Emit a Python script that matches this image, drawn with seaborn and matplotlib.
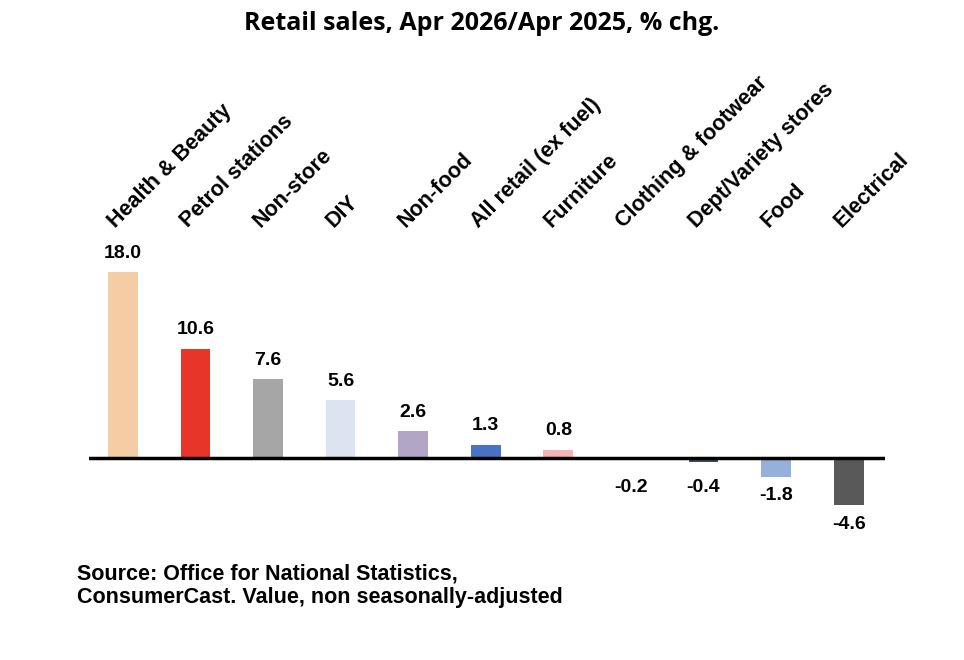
import matplotlib
matplotlib.use("Agg")
import matplotlib.pyplot as plt
import seaborn as sns
import pandas as pd

categories = ["Health & Beauty", "Petrol stations", "Non-store", "DIY", "Non-food",
              "All retail (ex fuel)", "Furniture", "Clothing & footwear",
              "Dept/Variety stores", "Food", "Electrical"]
values = [18.0, 10.6, 7.6, 5.6, 2.6, 1.3, 0.8, -0.2, -0.4, -1.8, -4.6]
colors = ["#F4CDA5", "#E8352A", "#A6A6A6", "#DCE4F1", "#B2A5C6", "#4A72C4",
          "#F5B5B5", "#F2E6D9", "#3B4A6B", "#95B0DA", "#595959"]

sns.set_style("white")
plt.rcParams['font.family'] = ['Liberation Sans', 'DejaVu Sans']
plt.rcParams['text.color'] = 'black'

df = pd.DataFrame({"cat": categories, "val": values})
fig = plt.figure(figsize=(9.64, 6.6), dpi=100)
ax = fig.add_axes([0.092, 0.182, 0.826, 0.424])
sns.barplot(data=df, x="cat", y="val", hue="cat", palette=colors, legend=False,
            width=0.41, ax=ax, saturation=1, linewidth=0)
ax.set_xlim(-0.47, 10.5)
ax.set_ylim(-7.94, 19.17)
ax.axhline(0, color="black", lw=2.5)
for s in ax.spines.values():
    s.set_visible(False)
ax.set_xticks([]); ax.set_yticks([])
ax.set_xlabel(""); ax.set_ylabel("")
for i, v in enumerate(values):
    if v >= 0:
        ax.text(i, v + 1.0, f"{v:.1f}", ha="center", va="bottom", fontsize=14, fontweight="bold", color="black")
    else:
        ax.text(i, min(v, -1.0) - 1.0, f"{v:.1f}", ha="center", va="top", fontsize=14, fontweight="bold", color="black")
    ax.text(i - 0.05, 21.9, categories[i], rotation=45, rotation_mode="anchor",
            ha="left", va="bottom", fontsize=15.5, fontweight="bold", clip_on=False, color="black")
fig.text(0.5, 0.965, "Retail sales, Apr 2026/Apr 2025, % chg.", ha="center", va="center",
         fontsize=18, fontweight="bold", family=["Open Sans", "DejaVu Sans"], color="black")
fig.text(0.08, 0.112, "Source: Office for National Statistics,\nConsumerCast. Value, non seasonally-adjusted",
         ha="left", va="center", fontsize=15.5, fontweight="bold", linespacing=1.15, color="black")
fig.savefig("out.png", dpi=100)
